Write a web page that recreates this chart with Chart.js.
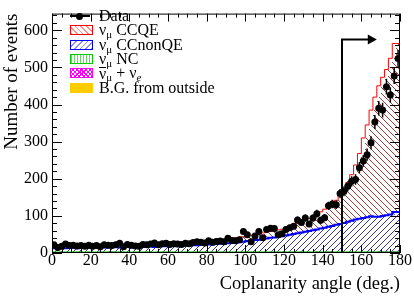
<!DOCTYPE html>
<html>
<head>
<meta charset="utf-8">
<script src="https://cdn.jsdelivr.net/npm/chart.js@4.4.0/dist/chart.umd.min.js"></script>
<style>
  html, body { margin: 0; padding: 0; background: #fff; }
  #wrap { position: relative; width: 414px; height: 296px; }
  #legend { position: absolute; left: 70px; top: 9px; font: 16px "Liberation Serif", serif; color: #000; }
  #legend .row { height: 14.3px; display: flex; align-items: center; white-space: nowrap; }
  #legend .sw { display: inline-block; width: 23px; height: 10px; margin-right: 6px; box-sizing: border-box; position: relative; flex: none; }
  #legend .lo { font-size: 11px; position: relative; top: 4px; }
  .data::before { content: ""; position: absolute; left: 0; right: 3px; top: 4px; height: 2px; background: #000; }
  .data::after { content: ""; position: absolute; left: 6px; top: 1.5px; width: 7px; height: 7px; border-radius: 50%; background: #000; }
  .ccqe { border: 1px solid #f00; background: repeating-linear-gradient(45deg, rgba(255,110,110,.8) 0 1px, transparent 1px 4px); }
  .nonqe { border: 1px solid #00f; background: repeating-linear-gradient(-45deg, rgba(110,110,255,.8) 0 1px, transparent 1px 4px); }
  .nc { border: 1px solid #0c0; background: repeating-linear-gradient(90deg, rgba(0,190,0,.6) 0 1px, transparent 1px 3px); }
  .nub { border: 1px solid #f0f; background: repeating-linear-gradient(45deg, #f0f 0 1px, transparent 1px 3px), repeating-linear-gradient(-45deg, #f0f 0 1px, transparent 1px 3px); }
  .bg { border: 1px solid #fc0; background: #fc0; }
  .bar { display: inline-block; line-height: 12px; border-top: 1px solid #000; }
</style>
</head>
<body>
<div id="wrap">
  <canvas id="coplanarity_Chart" width="414" height="296"></canvas>
  <div id="legend">
    <div class="row"><span class="sw data"></span>Data</div>
    <div class="row"><span class="sw ccqe"></span>ν<span class="lo">μ</span>&nbsp;CCQE</div>
    <div class="row"><span class="sw nonqe"></span>ν<span class="lo">μ</span>&nbsp;CCnonQE</div>
    <div class="row"><span class="sw nc"></span>ν<span class="lo">μ</span>&nbsp;NC</div>
    <div class="row"><span class="sw nub"></span><span class="bar">ν</span><span class="lo">μ</span>&nbsp;+ ν<span class="lo"><i>e</i></span></div>
    <div class="row"><span class="sw bg"></span>B.G. from outside</div>
  </div>
</div>
<script>
// 2 deg. bins, centres in degrees
const binCentres = [
  1, 3, 5, 7, 9, 11, 13, 15, 17, 19,
  21, 23, 25, 27, 29, 31, 33, 35, 37, 39,
  41, 43, 45, 47, 49, 51, 53, 55, 57, 59,
  61, 63, 65, 67, 69, 71, 73, 75, 77, 79,
  81, 83, 85, 87, 89, 91, 93, 95, 97, 99,
  101, 103, 105, 107, 109, 111, 113, 115, 117, 119,
  121, 123, 125, 127, 129, 131, 133, 135, 137, 139,
  141, 143, 145, 147, 149, 151, 153, 155, 157, 159,
  161, 163, 165, 167, 169, 171, 173, 175, 177, 179
];
const binHalfWidth = 1;

// observed events
const dataEvents = [
  22, 15, 18, 24, 20, 21, 19, 20, 18, 21,
  18, 20, 17, 22, 21, 20, 22, 26, 17, 23,
  21, 19, 18, 23, 22, 24, 27, 22, 25, 26,
  23, 25, 24, 23, 26, 25, 28, 30, 29, 27,
  33, 29, 31, 32, 30, 40, 34, 33, 36, 58,
  49, 30, 46, 58, 41, 63, 67, 66, 49, 52,
  63, 68, 72, 89, 82, 94, 78, 94, 106, 88,
  95, 127, 132, 130, 160, 166, 180, 193, 198, 230,
  248, 265, 297, 353, 390, 385, 448, 426, 477, 524
];

// MC components, stacked bottom to top: outside BG, anti-nu + nu_e, NC, CCnonQE, CCQE
const outsideBgEvents = [
  1, 1, 0.5, 1, 1, 0.5, 1, 1, 1, 0.5,
  1, 1, 0.5, 1, 1, 1, 1.5, 1, 1, 1,
  1, 0.5, 1, 1, 1, 1, 1, 0.5, 1, 1,
  1, 1, 1, 0.5, 1, 1, 1, 1, 1, 1,
  1, 1, 1, 1, 1, 1, 1, 1, 1, 1,
  1, 1, 1, 1, 1, 1, 1, 1, 1, 1,
  1, 1, 1, 1, 1, 1, 1, 1, 1, 1.5,
  1, 1, 1.5, 1, 1, 1, 1, 1, 1, 1,
  1, 1, 1, 1, 1, 1, 1, 1, 1, 1
];
const antiNuEvents = [
  0.5, 0.5, 0.5, 0.5, 0.5, 0.5, 0.5, 0.5, 0.5, 0.5,
  0.5, 0.5, 0.5, 0.5, 0.5, 0.5, 0.5, 0.5, 0.5, 0.5,
  0.5, 0.5, 0.5, 0.5, 0.5, 0.5, 0.5, 0.5, 0.5, 0.5,
  0.5, 0.5, 0.5, 0.5, 0.5, 0.5, 0.5, 0.5, 0.5, 0.5,
  0.5, 0.5, 0.5, 0.5, 0.5, 0.5, 0.5, 0.5, 0.5, 0.5,
  0.5, 0.5, 0.5, 0.5, 0.5, 0.5, 0.5, 0.5, 0.5, 0.5,
  0.5, 0.5, 0.5, 0.5, 0.5, 0.5, 0.5, 0.5, 0.5, 0.5,
  0.5, 0.5, 0.5, 0.5, 0.5, 0.5, 0.5, 0.5, 0.5, 0.5,
  0.5, 0.5, 0.5, 0.5, 0.5, 1, 1, 1, 1, 1
];
const ncEvents = [
  1.5, 1.5, 1.5, 1.5, 1.5, 1.5, 1.5, 1.5, 1.5, 1.5,
  1.5, 1.5, 1.5, 1.5, 1.5, 1.5, 1.5, 1.5, 1.5, 1.5,
  1.5, 1.5, 1.5, 1.5, 1.5, 1.5, 1.5, 1.5, 1.5, 1.5,
  1.5, 1.5, 1.5, 1.5, 1.5, 1.5, 1.5, 1.5, 1.5, 1.5,
  1.5, 1.5, 1.5, 1.5, 1.5, 1.5, 1.5, 1.5, 1.5, 1.5,
  1.5, 1.5, 1.5, 1.5, 1.5, 1.5, 1.5, 1.5, 1.5, 1.5,
  1.5, 1.5, 1.5, 1.5, 1.5, 1.5, 1.5, 1.5, 1.5, 1.5,
  1.5, 1.5, 1.5, 1.5, 1.5, 1.5, 1.5, 1.5, 1.5, 1.5,
  1.5, 1.5, 1.5, 1.5, 1.5, 1.5, 1.5, 1.5, 1.5, 1.5
];
const ccnonqeEvents = [
  10, 10, 10, 11, 10, 11, 11, 10, 11, 11,
  11, 12, 11, 12, 12, 12, 12, 13, 12, 13,
  13, 13, 14, 13, 14, 14, 15, 14, 15, 15,
  15, 16, 16, 16, 17, 17, 17, 18, 18, 19,
  19, 20, 20, 21, 22, 22, 23, 24, 25, 26,
  27, 29, 30, 32, 33, 35, 36, 38, 39, 41,
  42, 44, 46, 48, 50, 52, 54, 56, 58, 60,
  63, 65, 67, 70, 73, 75, 78, 81, 84, 87,
  89, 91, 93, 96, 95, 94, 96, 98, 100, 107
];
const ccqeEvents = [
  7, 7, 8, 7, 8, 7, 8, 8, 7, 8,
  8, 8, 7, 8, 8, 8, 8, 8, 8, 8,
  8, 8, 8, 8, 8, 9, 8, 9, 9, 9,
  9, 9, 9, 9, 9, 9, 10, 10, 10, 10,
  10, 10, 11, 11, 11, 12, 12, 13, 13, 14,
  14, 14, 15, 15, 15, 16, 16, 17, 17, 18,
  19, 20, 22, 24, 26, 28, 31, 34, 37, 40,
  45, 50, 55, 62, 66, 79, 92, 106, 124, 147,
  176, 216, 249, 286, 322, 353, 374, 393, 421, 454
];

// selection cut arrow (deg., events)
const cutAngle = 150;
const cutArrowHeight = 575;
const cutArrowEnd = 168;

const serif = '"Liberation Serif", "DejaVu Serif", serif';

// fill of each stacked component (same order as the datasets): rgb, opacity, hatch kind, spacing
const mcFills = [
  { rgb: [255, 204, 0], a: 1, kind: 'solid', gap: 1 },
  { rgb: [255, 0, 255], a: 0.9, kind: 'cross', gap: 3 },
  { rgb: [0, 190, 0], a: 0.7, kind: 'vert', gap: 3 },
  { rgb: [90, 90, 255], a: 0.6, kind: 'fwd', gap: 6 },
  { rgb: [255, 90, 90], a: 0.65, kind: 'back', gap: 6 }
];

// histogram as a step line: left edges + closing right edge
function stepPoints(values) {
  const pts = binCentres.map((c, i) => ({ x: c - binHalfWidth, y: values[i] }));
  pts.push({ x: binCentres[binCentres.length - 1] + binHalfWidth, y: values[values.length - 1] });
  return pts;
}

function histo(label, values, border, width) {
  return {
    label: label,
    data: stepPoints(values),
    stepped: 'after',
    borderColor: border,
    borderWidth: width,
    fill: false,
    pointRadius: 0,
    stack: 'mc',
    order: 1
  };
}

function onHatch(kind, gap, X, Y) {
  const m = v => ((v % gap) + gap) % gap;
  if (kind === 'solid') return true;
  if (kind === 'back') return m(X - Y) === 0;
  if (kind === 'fwd') return m(X + Y) === 0;
  if (kind === 'vert') return m(X) === 0;
  return m(X - Y) === 0 || m(X + Y) === 0;
}

// ROOT-like hatched fills between the stacked step lines, painted pixel by pixel
const hatchFills = {
  id: 'hatchFills',
  beforeDatasetsDraw(chart) {
    const { ctx, chartArea: a, scales: { y } } = chart;
    const L = Math.round(a.left), T = Math.round(a.top);
    const W = Math.round(a.right) - L, H = Math.round(a.bottom) - T;
    const img = ctx.getImageData(L, T, W, H);
    const d = img.data;
    const metas = mcFills.map((st, k) => chart.getDatasetMeta(k).data);
    const base = y.getPixelForValue(0);
    const edges = metas[0];
    let j = 0;
    for (let col = 0; col < W; col++) {
      const X = L + col;
      const cx = X + 0.5;
      while (j < edges.length - 2 && edges[j + 1].x <= cx) j++;
      let lowEdge = base;
      mcFills.forEach((st, k) => {
        const top = metas[k][j].y;
        for (let row = Math.max(0, Math.ceil(top - 0.5) - T); row < H; row++) {
          const Y = T + row;
          if (Y + 0.5 >= lowEdge) break;
          if (!onHatch(st.kind, st.gap, X, Y)) continue;
          const p = (row * W + col) * 4;
          for (let c = 0; c < 3; c++) d[p + c] = Math.round(st.a * st.rgb[c] + (1 - st.a) * d[p + c]);
          d[p + 3] = 255;
        }
        lowEdge = Math.min(lowEdge, top);
      });
    }
    ctx.putImageData(img, L, T);
  }
};

// frame, inward ticks, error bars and the cut arrow (ROOT look)
const rootDecor = {
  id: 'rootDecor',
  afterDatasetsDraw(chart) {
    const { ctx, chartArea: a, scales: { x, y } } = chart;
    ctx.save();
    ctx.strokeStyle = '#000';

    // data error bars
    ctx.lineWidth = 1.5;
    ctx.beginPath();
    binCentres.forEach((c, i) => {
      const n = dataEvents[i];
      const err = Math.sqrt(n);
      const px = x.getPixelForValue(c);
      const py = y.getPixelForValue(n);
      ctx.moveTo(px, y.getPixelForValue(n - err));
      ctx.lineTo(px, y.getPixelForValue(n + err));
      ctx.moveTo(x.getPixelForValue(c - binHalfWidth), py);
      ctx.lineTo(x.getPixelForValue(c + binHalfWidth), py);
    });
    ctx.stroke();

    // cut arrow
    const ax = x.getPixelForValue(cutAngle);
    const ay = y.getPixelForValue(cutArrowHeight);
    const tip = x.getPixelForValue(cutArrowEnd);
    ctx.lineWidth = 2;
    ctx.beginPath();
    ctx.moveTo(ax, y.getPixelForValue(0));
    ctx.lineTo(ax, ay);
    ctx.lineTo(tip - 6, ay);
    ctx.stroke();
    ctx.fillStyle = '#000';
    ctx.beginPath();
    ctx.moveTo(tip, ay);
    ctx.lineTo(tip - 9, ay - 5);
    ctx.lineTo(tip - 9, ay + 5);
    ctx.closePath();
    ctx.fill();

    // frame
    ctx.lineWidth = 1;
    ctx.strokeRect(a.left + 0.5, a.top + 0.5, a.width - 1, a.height - 1);

    // ticks
    ctx.beginPath();
    for (let v = 0; v <= x.max; v += 5) {
      const px = Math.round(x.getPixelForValue(v)) + 0.5;
      const len = v % 20 === 0 ? 8 : 4;
      ctx.moveTo(px, a.bottom); ctx.lineTo(px, a.bottom - len);
      ctx.moveTo(px, a.top); ctx.lineTo(px, a.top + len);
    }
    for (let v = 0; v <= y.max; v += 20) {
      const py = Math.round(y.getPixelForValue(v)) + 0.5;
      const len = v % 100 === 0 ? 10 : 5;
      ctx.moveTo(a.left, py); ctx.lineTo(a.left + len, py);
      ctx.moveTo(a.right, py); ctx.lineTo(a.right - len, py);
    }
    ctx.stroke();
    ctx.restore();
  }
};

const config = {
  type: 'line',
  data: {
    datasets: [
      histo('B.G. from outside', outsideBgEvents, '#fc0', 1),
      histo('anti-numu + nue', antiNuEvents, '#f0f', 1),
      histo('numu NC', ncEvents, '#0c0', 1),
      histo('numu CCnonQE', ccnonqeEvents, '#0000ff', 2),
      histo('numu CCQE', ccqeEvents, '#ff0000', 1),
      {
        label: 'Data',
        data: binCentres.map((c, i) => ({ x: c, y: dataEvents[i] })),
        showLine: false,
        fill: false,
        pointRadius: 3.5,
        pointBackgroundColor: '#000',
        pointBorderWidth: 0,
        stack: 'data',
        order: 0
      }
    ]
  },
  options: {
    responsive: false,
    animation: false,
    devicePixelRatio: 1,
    events: [],
    layout: { padding: { top: 5, right: 14, left: 0, bottom: 0 } },
    plugins: { legend: { display: false }, tooltip: { enabled: false } },
    scales: {
      x: {
        type: 'linear',
        min: 0,
        max: 180,
        offset: false,
        grid: { display: false, drawTicks: false },
        border: { display: false },
        ticks: { stepSize: 20, autoSkip: false, maxRotation: 0, includeBounds: false, padding: -2, color: '#000', font: { family: serif, size: 16 } },
        title: { display: true, text: 'Coplanarity angle (deg.)', align: 'end', color: '#000', padding: { top: 0, bottom: 1 }, font: { family: serif, size: 18.5 } },
        afterFit(scale) { scale.height = 43; }
      },
      y: {
        type: 'linear',
        stacked: true,
        min: 0,
        max: 645,
        grid: { display: false, drawTicks: false },
        border: { display: false },
        ticks: { stepSize: 100, includeBounds: false, padding: 4, color: '#000', font: { family: serif, size: 16 } },
        title: { display: true, text: 'Number of events', align: 'end', color: '#000', padding: { top: 1, bottom: 0 }, font: { family: serif, size: 19 } },
        afterFit(scale) { scale.width = 52; }
      }
    }
  },
  plugins: [hatchFills, rootDecor]
};

const myChart = new Chart(document.getElementById('coplanarity_Chart'), config);
</script>
</body>
</html>
